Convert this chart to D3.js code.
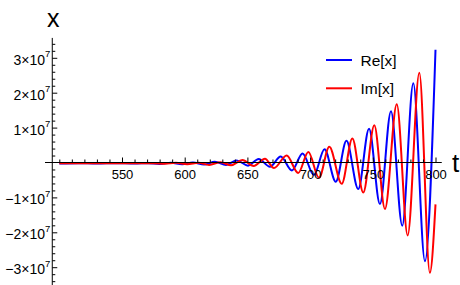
<!DOCTYPE html>
<html>
<head>
<meta charset="utf-8">
<script src="https://cdn.jsdelivr.net/npm/d3@7"></script>
<style>
  body { margin: 0; background: #fff; }
  text { font-family: "Liberation Sans", Arial, sans-serif; }
</style>
</head>
<body>
<div id="chart"></div>
<script>
// values are in units of 10^7
const reT = [500, 515, 530, 545, 560, 571, 580, 589, 598, 606.5, 615.5, 624, 633, 641.5, 650.5, 659, 668, 676.6, 685.5, 694, 703, 711.5, 720.5, 729, 738.4, 747, 755.7, 764.5, 773.5, 782.3, 791.6, 800];
const reX = [-0.03, -0.02, -0.03, -0.02, -0.03, -0.02, -0.04, -0.01, -0.05, 0.0, -0.06, 0.02, -0.07, 0.06, -0.09, 0.1, -0.12, 0.17, -0.23, 0.26, -0.36, 0.38, -0.55, 0.62, -0.76, 0.97, -1.19, 1.47, -1.81, 2.27, -2.83, 3.23];

const imT = [500, 515, 530, 545, 560, 575, 584, 593, 602, 611, 619.5, 628.5, 637, 646, 655, 664, 671.2, 681.3, 690.5, 698.6, 707.1, 715.3, 725.2, 733.7, 742.4, 751.2, 759.7, 769.1, 777.8, 787.1, 795.5, 800];
const imX = [-0.02, -0.02, -0.025, -0.02, -0.025, -0.02, -0.035, -0.01, -0.05, -0.01, -0.07, 0.01, -0.08, 0.07, -0.1, 0.11, -0.16, 0.2, -0.3, 0.3, -0.44, 0.45, -0.61, 0.69, -0.86, 1.07, -1.33, 1.67, -2.09, 2.57, -3.16, -1.2];

const xTicks = [550, 600, 650, 700, 750, 800];
const yTicks = [-3, -2, -1, 1, 2, 3];
const seriesNames = ['Re[x]', 'Im[x]'];
const seriesColors = ['#0000ff', '#ff0000'];

const width = 460, height = 285;
const xExtent = [488.6, 805];   // axis line extent (t)
const yExtent = [-3.51, 3.57];  // axis line extent (x / 10^7)
const tOrigin = 494.4;          // where the vertical axis sits

const svg = d3.select('#chart').append('svg')
  .attr('width', width).attr('height', height);

const x = d3.scaleLinear().domain([500, 800]).range([59.3, 435.5]);
const y = d3.scaleLinear().domain([0, 3]).range([162.5, 57.8]);

// curves
const line = d3.line()
  .x(d => x(d[0]))
  .y(d => y(d[1]))
  .curve(d3.curveMonotoneX);

const series = [d3.zip(reT, reX), d3.zip(imT, imX)];
series.forEach((s, i) => {
  svg.append('path')
    .datum(s)
    .attr('fill', 'none')
    .attr('stroke', seriesColors[i])
    .attr('stroke-width', 2)
    .attr('stroke-linejoin', 'round')
    .attr('d', line);
});

// x axis
const xAxisG = svg.append('g').attr('transform', `translate(0,${y(0)})`);
xAxisG.append('line')
  .attr('x1', x(xExtent[0])).attr('x2', x(xExtent[1]))
  .attr('stroke', '#000');
xAxisG.append('g')
  .call(d3.axisBottom(x).tickValues(d3.range(500, 801, 10).filter(v => !xTicks.includes(v)))
    .tickSize(-3).tickFormat(''))
  .call(g => g.select('.domain').remove());
xAxisG.append('g')
  .call(d3.axisBottom(x).tickValues(xTicks).tickSize(-5).tickPadding(7))
  .call(g => g.select('.domain').remove())
  .call(g => g.selectAll('text').attr('font-size', 13).attr('fill', '#000')
    .attr('font-family', '"Liberation Sans", Arial, sans-serif'));

// y axis
const yAxisG = svg.append('g').attr('transform', `translate(${x(tOrigin)},0)`);
yAxisG.append('line')
  .attr('y1', y(yExtent[0])).attr('y2', y(yExtent[1]))
  .attr('stroke', '#000');
yAxisG.append('g')
  .call(d3.axisLeft(y).tickValues(d3.range(-34, 36, 2).map(v => v / 10).filter(v => v % 1 !== 0))
    .tickSize(-3).tickFormat(''))
  .call(g => g.select('.domain').remove());
yAxisG.append('g')
  .call(d3.axisLeft(y).tickValues(yTicks).tickSize(-5).tickPadding(2))
  .call(g => g.select('.domain').remove())
  .call(g => g.selectAll('text').each(function(d) {
    const t = d3.select(this)
      .attr('font-size', 14).attr('fill', '#000').attr('dy', 6.5)
      .attr('font-family', '"Liberation Sans", Arial, sans-serif');
    t.text(null);
    t.append('tspan').text((d < 0 ? '\u2212' : '') + Math.abs(d) + '\u00d710');
    t.append('tspan').attr('dy', -7.5).attr('font-size', 9.5).text('7');
  }));

// axis labels
svg.append('text')
  .attr('x', x(tOrigin) + 1).attr('y', 26.5)
  .attr('text-anchor', 'middle')
  .attr('font-size', 25)
  .text('x');
svg.append('text')
  .attr('x', 452).attr('y', 171.5)
  .attr('font-size', 26)
  .text('t');

// legend
const legend = svg.append('g');
seriesNames.forEach((name, i) => {
  const ly = 60 + i * 28.3;
  legend.append('line')
    .attr('x1', 326).attr('x2', 352)
    .attr('y1', ly).attr('y2', ly)
    .attr('stroke', seriesColors[i])
    .attr('stroke-width', 2);
  legend.append('text')
    .attr('x', 360.5).attr('y', ly + 5.6)
    .attr('font-size', 15.5)
    .text(name);
});
</script>
</body>
</html>
